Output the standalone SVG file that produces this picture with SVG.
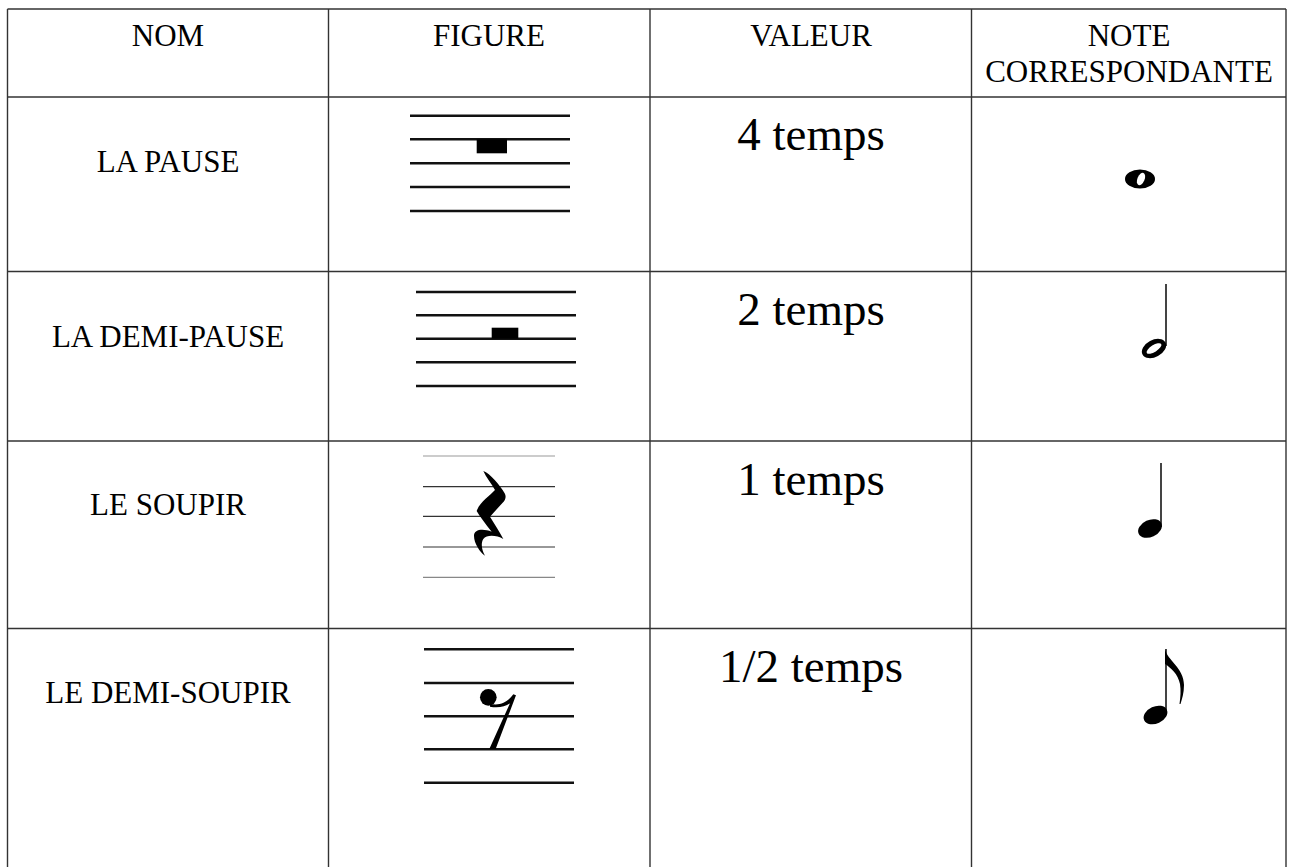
<svg xmlns="http://www.w3.org/2000/svg" width="1293" height="867" viewBox="0 0 1293 867">
<style>
  .grid { stroke: #333; stroke-width: 1.4; fill: none; }
  .hd { font-family: "Liberation Serif", "Times New Roman", serif; font-size: 31px; fill: #000; text-anchor: middle; }
  .val { font-family: "Liberation Serif", "Times New Roman", serif; font-size: 47px; fill: #000; text-anchor: middle; }
  .staff { stroke: #111; stroke-width: 2.4; }
  .staffthin { stroke: #333; stroke-width: 1.2; }
  .ink { fill: #000; }
  .stem { stroke: #444; stroke-width: 2; }
</style>
<rect x="0" y="0" width="1293" height="867" fill="#fff"/>

<g id="grid">
  <line class="grid" x1="7.5" y1="9" x2="1286" y2="9"/>
  <line class="grid" x1="7.5" y1="97" x2="1286" y2="97"/>
  <line class="grid" x1="7.5" y1="271.5" x2="1286" y2="271.5"/>
  <line class="grid" x1="7.5" y1="441" x2="1286" y2="441"/>
  <line class="grid" x1="7.5" y1="628.5" x2="1286" y2="628.5"/>
  <line class="grid" x1="7.5" y1="9" x2="7.5" y2="870"/>
  <line class="grid" x1="328.5" y1="9" x2="328.5" y2="870"/>
  <line class="grid" x1="650" y1="9" x2="650" y2="870"/>
  <line class="grid" x1="971.5" y1="9" x2="971.5" y2="870"/>
  <line class="grid" x1="1286" y1="9" x2="1286" y2="870"/>
</g>

<g id="header">
  <text class="hd" x="168" y="45.7">NOM</text>
  <text class="hd" x="489" y="45.7">FIGURE</text>
  <text class="hd" x="811" y="45.7">VALEUR</text>
  <text class="hd" x="1129" y="45.7">NOTE</text>
  <text class="hd" x="1129" y="82.3">CORRESPONDANTE</text>
</g>

<g id="row-pause">
  <text class="hd" x="168" y="171.7">LA PAUSE</text>
  <g id="fig-pause">
    <line class="staff" x1="410" y1="115.7" x2="570" y2="115.7"/>
    <line class="staff" x1="410" y1="139.3" x2="570" y2="139.3"/>
    <line class="staff" x1="410" y1="163.3" x2="570" y2="163.3"/>
    <line class="staff" x1="410" y1="187" x2="570" y2="187"/>
    <line class="staff" x1="410" y1="211" x2="570" y2="211"/>
    <rect class="ink" x="476.7" y="139.3" width="30.3" height="14"/>
  </g>
  <text class="val" x="811" y="150">4 temps</text>
  <g id="note-ronde">
    <ellipse class="ink" cx="1140" cy="179" rx="15" ry="9.5"/>
    <ellipse fill="#fff" cx="1141" cy="179" rx="3.6" ry="6.6" transform="rotate(22 1141 179)"/>
  </g>
</g>

<g id="row-demi-pause">
  <text class="hd" x="168" y="347">LA DEMI-PAUSE</text>
  <g id="fig-demi-pause">
    <line class="staff" x1="416" y1="292" x2="576" y2="292"/>
    <line class="staff" x1="416" y1="315.3" x2="576" y2="315.3"/>
    <line class="staff" x1="416" y1="338.7" x2="576" y2="338.7"/>
    <line class="staff" x1="416" y1="362.3" x2="576" y2="362.3"/>
    <line class="staff" x1="416" y1="386" x2="576" y2="386"/>
    <rect class="ink" x="491.7" y="327.7" width="26.6" height="11"/>
  </g>
  <text class="val" x="811" y="325">2 temps</text>
  <g id="note-blanche">
    <line class="stem" x1="1166" y1="284" x2="1166" y2="346"/>
    <ellipse class="ink" cx="1154" cy="348.5" rx="13" ry="8.5" transform="rotate(-28 1154 348.5)"/>
    <ellipse fill="#fff" cx="1154" cy="348.5" rx="8.5" ry="3.4" transform="rotate(-32 1154 348.5)"/>
  </g>
</g>

<g id="row-soupir">
  <text class="hd" x="168" y="515">LE SOUPIR</text>
  <g id="fig-soupir">
    <line stroke="#999" stroke-width="1.2" x1="423" y1="456" x2="555" y2="456"/>
    <line class="staffthin" x1="423" y1="486.7" x2="555" y2="486.7"/>
    <line class="staffthin" x1="423" y1="516.3" x2="555" y2="516.3"/>
    <line class="staffthin" x1="423" y1="547" x2="555" y2="547"/>
    <line stroke="#888" stroke-width="1.2" x1="423" y1="577.3" x2="555" y2="577.3"/>
    <path class="ink" transform="translate(380 435) scale(0.3333)" d="M 310,108 C 330,115 360,150 374,175 C 380,185 376,195 368,203 L 330,245 C 345,270 360,292 370,312 C 350,300 320,298 310,312 C 302,325 305,345 315,362 C 300,352 282,325 282,302 C 282,282 310,280 335,290 C 315,265 300,245 290,228 C 300,200 330,182 345,165 C 335,145 318,128 310,108 Z"/>
  </g>
  <text class="val" x="811" y="495">1 temps</text>
  <g id="note-noire">
    <line class="stem" x1="1161" y1="463" x2="1161" y2="527"/>
    <ellipse class="ink" cx="1150" cy="528.5" rx="12.5" ry="8.5" transform="rotate(-25 1150 528.5)"/>
  </g>
</g>

<g id="row-demi-soupir">
  <text class="hd" x="168" y="703.3">LE DEMI-SOUPIR</text>
  <g id="fig-demi-soupir">
    <line class="staff" stroke-width="3" x1="424" y1="649.3" x2="574" y2="649.3"/>
    <line class="staff" stroke-width="3" x1="424" y1="683" x2="574" y2="683"/>
    <line class="staff" stroke-width="3" x1="424" y1="716.3" x2="574" y2="716.3"/>
    <line class="staff" stroke-width="3" x1="424" y1="749.3" x2="574" y2="749.3"/>
    <line class="staff" stroke-width="3" x1="424" y1="782.7" x2="574" y2="782.7"/>
    <g transform="translate(380 605) scale(0.3333)">
      <circle class="ink" cx="325" cy="277" r="25"/>
      <path class="ink" d="M 330,296 C 360,304 385,290 400,268 L 408,271 L 347,432 L 328,432 L 390,295 C 375,306 352,310 330,305 Z"/>
    </g>
  </g>
  <text class="val" x="811" y="681.7">1/2 temps</text>
  <g id="note-croche">
    <line class="stem" x1="1166" y1="649" x2="1166" y2="713"/>
    <ellipse class="ink" cx="1155.5" cy="715" rx="12.5" ry="8.5" transform="rotate(-25 1155.5 715)"/>
    <path class="ink" d="M 1165,649 C 1167,660 1184,668 1184,685 C 1184,693 1182,699 1180.5,704 L 1179.5,704 C 1180.5,697 1181,690 1180,684 C 1178,674 1171,668 1165,664 Z"/>
  </g>
</g>
</svg>
